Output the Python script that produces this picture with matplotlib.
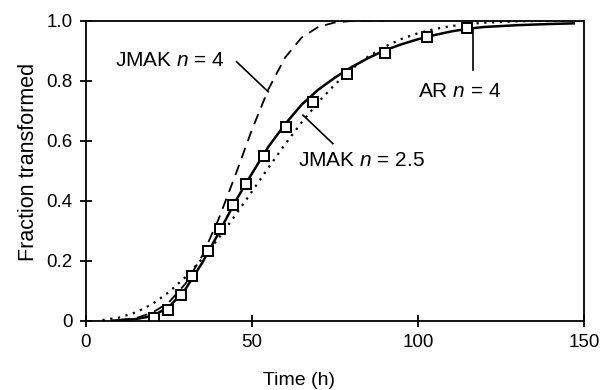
import matplotlib
matplotlib.use("Agg")
import matplotlib.pyplot as plt

plt.rcParams['font.family'] = ['Liberation Sans', 'DejaVu Sans']
plt.rcParams['mathtext.fontset'] = 'custom'
plt.rcParams['mathtext.it'] = 'Liberation Sans:italic'
plt.rcParams['mathtext.rm'] = 'Liberation Sans'

# measured points (squares)
t_obs = [20.5, 24.7, 28.5, 32.1, 36.7, 40.4, 44.2, 48.1, 53.7, 60.3, 68.4, 78.7, 90.2, 102.7, 114.7]
f_obs = [0.009, 0.036, 0.086, 0.15, 0.233, 0.304, 0.385, 0.457, 0.549, 0.646, 0.73, 0.822, 0.892, 0.947, 0.977]

# AR n = 4 (solid)
t_ar = [8, 10, 15, 20, 25, 30, 35, 40, 45, 50, 55, 60, 65, 70, 75, 80, 85, 90, 95, 100, 105, 110, 115, 120, 130, 140, 147]
f_ar = [0.0, 0.001, 0.005, 0.015, 0.045, 0.105, 0.192, 0.292, 0.397, 0.49, 0.58, 0.655, 0.72, 0.77, 0.81, 0.845, 0.875, 0.901, 0.921, 0.938, 0.952, 0.964, 0.973, 0.979, 0.985, 0.989, 0.991]

# JMAK n = 4 (dashed)
t_j4 = [10, 15, 20, 25, 30, 35, 40, 45, 50, 55, 60, 65, 70, 75, 80, 85, 90]
f_j4 = [0.002, 0.008, 0.026, 0.061, 0.123, 0.215, 0.339, 0.484, 0.636, 0.772, 0.877, 0.944, 0.979, 0.994, 0.999, 1.0, 1.0]

# JMAK n = 2.5 (dotted)
t_j25 = [5, 10, 15, 20, 25, 30, 35, 40, 45, 50, 55, 60, 65, 70, 75, 80, 85, 90, 95, 100, 105, 110, 115, 120, 130, 140, 150]
f_j25 = [0.002, 0.010, 0.027, 0.055, 0.095, 0.145, 0.206, 0.275, 0.351, 0.43, 0.51, 0.588, 0.661, 0.728, 0.787, 0.838, 0.88, 0.913, 0.939, 0.958, 0.972, 0.982, 0.989, 0.993, 0.998, 0.9995, 1.0]

fig = plt.figure(figsize=(6.05, 3.9), dpi=100)
ax = fig.add_axes([0.142, 0.178, 0.823, 0.769])

ax.plot(t_j25, f_j25, color='black', lw=1.6, linestyle=(0, (1, 2.5)))
ax.plot(t_j4, f_j4, color='black', lw=1.3, linestyle=(0, (6, 4)))
ax.plot(t_ar, f_ar, color='black', lw=1.8)
ax.plot(t_obs, f_obs, 's', ms=7, mfc='white', mec='black', mew=1.4)

ax.set_xlim(0, 150)
ax.set_ylim(0, 1.0)
ax.set_xticks([0, 50, 100, 150])
ax.set_yticks([0, 0.2, 0.4, 0.6, 0.8, 1.0])
ax.set_yticklabels(['0', '0.2', '0.4', '0.6', '0.8', '1.0'])
ax.tick_params(direction='inout', length=9, width=1.3, labelsize=13.5, pad=5)
for s in ax.spines.values():
    s.set_linewidth(1.3)

ax.set_xlabel('Time (h)', fontsize=14)
ax.xaxis.set_label_coords(0.428, -0.17)
ax.set_ylabel('Fraction transformed', fontsize=15.5)
ax.yaxis.set_label_coords(-0.095, 0.53)

# labels with pointer lines
ax.text(8.7, 0.868, 'JMAK $\\it{n}$ = 4', fontsize=15, va='center', ha='left')
ax.plot([45.4, 54.9], [0.863, 0.763], color='black', lw=1.2)

ax.text(100, 0.763, 'AR $\\it{n}$ = 4', fontsize=15, va='center', ha='left')
ax.plot([116.5, 116.5], [0.975, 0.835], color='black', lw=1.2)

ax.text(64, 0.535, 'JMAK $\\it{n}$ = 2.5', fontsize=15, va='center', ha='left')
ax.plot([74.4, 65.4], [0.59, 0.685], color='black', lw=1.2)

fig.savefig('out.png', dpi=100)
